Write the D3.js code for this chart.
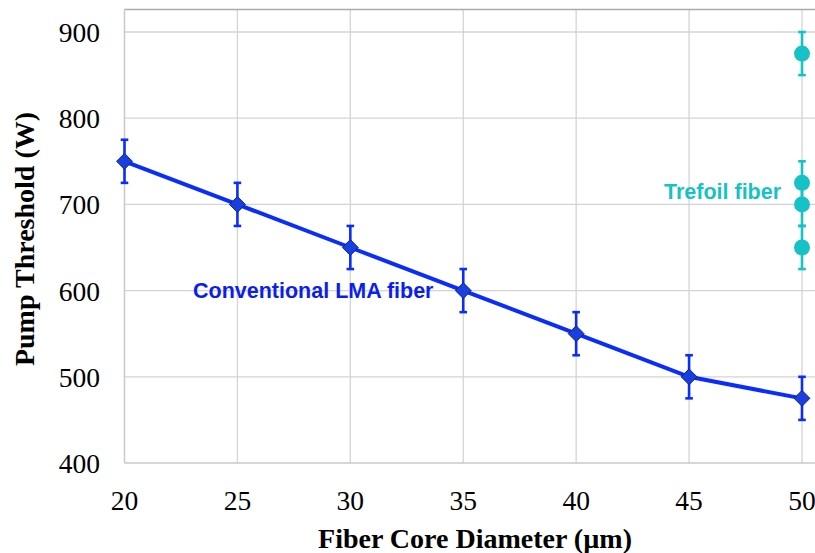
<!DOCTYPE html>
<html>
<head>
<meta charset="utf-8">
<script src="https://cdn.jsdelivr.net/npm/d3@7"></script>
<style>
  body { margin: 0; background: #fff; }
  svg text { font-family: "Liberation Serif", "Times New Roman", serif; }
</style>
</head>
<body>
<svg id="chart" width="815" height="553"></svg>
<script>
const diameters = [20, 25, 30, 35, 40, 45, 50];
const lmaThreshold = [750, 700, 650, 600, 550, 500, 475];
const lmaError = [25, 25, 25, 25, 25, 25, 25];
const trefoilDiameter = [50, 50, 50, 50];
const trefoilThreshold = [875, 725, 700, 650];
const trefoilError = [25, 25, 25, 25];
const xTicks = [20, 25, 30, 35, 40, 45, 50];
const yTicks = [400, 500, 600, 700, 800, 900];

const svg = d3.select('#chart');
const plotLeft = 124.5, plotRight = 815, plotTop = 9.5, plotBottom = 463;

const x = d3.scaleLinear().domain([20, 50]).range([124.5, 802]);
const y = d3.scaleLinear().domain([400, 900]).range([463, 32]);

// grid
svg.append('g').selectAll('line')
  .data(yTicks.slice(1))
  .join('line')
  .attr('x1', plotLeft).attr('x2', plotRight)
  .attr('y1', d => y(d)).attr('y2', d => y(d))
  .attr('stroke', '#d4d4d4').attr('stroke-width', 1.3);

svg.append('g').selectAll('line')
  .data(xTicks.slice(1))
  .join('line')
  .attr('x1', d => x(d)).attr('x2', d => x(d))
  .attr('y1', plotTop).attr('y2', plotBottom)
  .attr('stroke', '#d4d4d4').attr('stroke-width', 1.3);

// frame
svg.append('line').attr('x1', plotLeft).attr('x2', plotRight).attr('y1', plotTop).attr('y2', plotTop)
  .attr('stroke', '#aaaaaa').attr('stroke-width', 1.5);
svg.append('line').attr('x1', plotLeft).attr('x2', plotLeft).attr('y1', plotTop).attr('y2', plotBottom)
  .attr('stroke', '#c8c8c8').attr('stroke-width', 1.5);
svg.append('line').attr('x1', plotLeft).attr('x2', plotRight).attr('y1', plotBottom).attr('y2', plotBottom)
  .attr('stroke', '#c8c8c8').attr('stroke-width', 1.5);

// tick labels
svg.append('g').selectAll('text')
  .data(yTicks)
  .join('text')
  .attr('x', 100).attr('y', d => y(d) + 10)
  .attr('text-anchor', 'end')
  .attr('font-size', 27.5)
  .text(d => d);

svg.append('g').selectAll('text')
  .data(xTicks)
  .join('text')
  .attr('x', d => x(d)).attr('y', 510)
  .attr('text-anchor', 'middle')
  .attr('font-size', 27.5)
  .text(d => d);

// axis titles
svg.append('text')
  .attr('x', 475).attr('y', 548)
  .attr('text-anchor', 'middle')
  .attr('font-size', 28).attr('font-weight', 'bold')
  .text('Fiber Core Diameter (µm)');

svg.append('text')
  .attr('transform', 'translate(34,239) rotate(-90)')
  .attr('text-anchor', 'middle')
  .attr('font-size', 28).attr('font-weight', 'bold')
  .text('Pump Threshold (W)');

function errorBars(xs, ys, es, color) {
  const g = svg.append('g').attr('stroke', color).attr('stroke-width', 2.6);
  xs.forEach((d, i) => {
    const cx = x(d), hi = y(ys[i] + es[i]), lo = y(ys[i] - es[i]);
    g.append('line').attr('x1', cx).attr('x2', cx).attr('y1', hi).attr('y2', lo);
    g.append('line').attr('x1', cx - 3.8).attr('x2', cx + 3.8).attr('y1', hi).attr('y2', hi);
    g.append('line').attr('x1', cx - 3.8).attr('x2', cx + 3.8).attr('y1', lo).attr('y2', lo);
  });
}

// conventional LMA series
const lma = diameters.map((d, i) => [d, lmaThreshold[i]]);
svg.append('path')
  .datum(lma)
  .attr('fill', 'none')
  .attr('stroke', '#0a2dff')
  .attr('stroke-width', 4)
  .attr('d', d3.line().x(d => x(d[0])).y(d => y(d[1])));

errorBars(diameters, lmaThreshold, lmaError, '#0a2dff');

svg.append('g').selectAll('path')
  .data(lma)
  .join('path')
  .attr('transform', d => `translate(${x(d[0])},${y(d[1])})`)
  .attr('d', d3.symbol(d3.symbolDiamond2, 160))
  .attr('fill', '#1a3fe0')
  .attr('stroke', '#10237a')
  .attr('stroke-width', 1);

// trefoil series
errorBars(trefoilDiameter, trefoilThreshold, trefoilError, '#16c2c6');

svg.append('g').selectAll('circle')
  .data(trefoilDiameter)
  .join('circle')
  .attr('cx', d => x(d))
  .attr('cy', (d, i) => y(trefoilThreshold[i]))
  .attr('r', 8)
  .attr('fill', '#16c2c6');

// series labels
svg.append('text')
  .attr('x', 193).attr('y', 298)
  .style('font-family', '"Liberation Sans", Arial, sans-serif')
  .attr('font-size', 21.5).attr('font-weight', 'bold')
  .attr('fill', '#0a1ef0')
  .text('Conventional LMA fiber');

svg.append('text')
  .attr('x', 664).attr('y', 199)
  .style('font-family', '"Liberation Sans", Arial, sans-serif')
  .attr('font-size', 21.5).attr('font-weight', 'bold')
  .attr('fill', '#16c2c6')
  .text('Trefoil fiber');
</script>
</body>
</html>
